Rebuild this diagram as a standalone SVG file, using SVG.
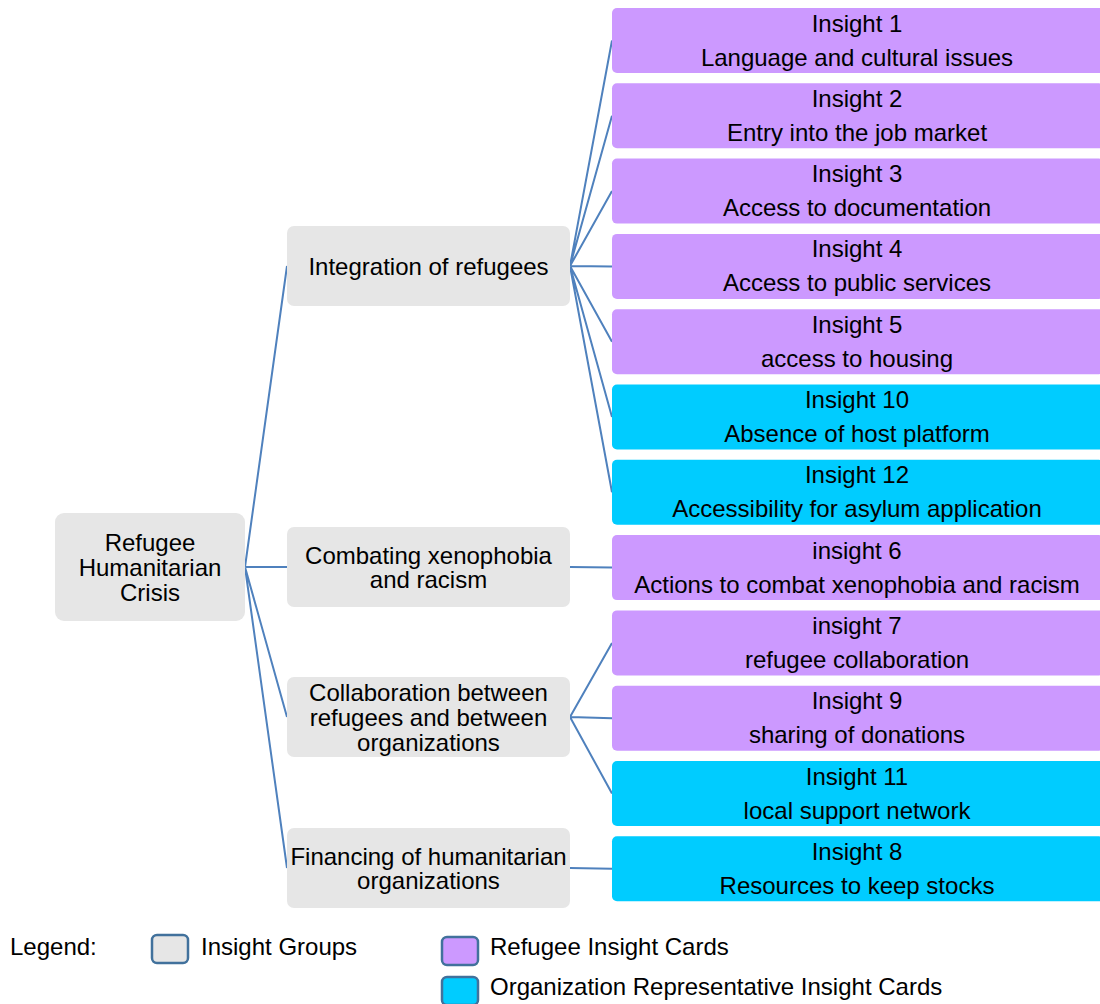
<svg xmlns="http://www.w3.org/2000/svg" width="1100" height="1004" viewBox="0 0 1100 1004">
<style>
text{font-family:"Liberation Sans",Arial,sans-serif;font-size:24px;fill:#000;text-anchor:middle}
.g{fill:#e6e6e6}
.p{fill:#cc99ff}
.c{fill:#00ccff}
.ln{stroke:#4f81bd;stroke-width:2;fill:none}
.lg{stroke:#41719c;stroke-width:2.5}
.l{text-anchor:start}
</style>
<rect width="1100" height="1004" fill="#fff"/>
<g id="connectors" class="ln">
<path d="M245 567L287 266M245 567L287 567M245 567L287 717M245 567L287 868"/>
<path d="M570 266L612 40.5M570 266L612 115.8M570 266L612 191.1M570 266L612 266.4M570 266L612 341.7M570 266L612 417M570 266L612 492.3"/>
<path d="M570 567L612 567.6"/>
<path d="M570 717L612 642.9M570 717L612 718.2M570 717L612 793.5"/>
<path d="M570 868L612 868.8"/>
</g>
<g id="root"><rect class="g" x="55" y="513" width="190" height="108" rx="9"/><text x="150" y="550.5">Refugee</text><text x="150" y="575.5">Humanitarian</text><text x="150" y="600.5">Crisis</text></g>
<g id="grp-integration"><rect class="g" x="287" y="226" width="283" height="80" rx="7"/><text x="428.5" y="274.5">Integration of refugees</text></g>
<g id="grp-combating"><rect class="g" x="287" y="527" width="283" height="80" rx="7"/><text x="428.5" y="563.5">Combating xenophobia</text><text x="428.5" y="587.5">and racism</text></g>
<g id="grp-collab"><rect class="g" x="287" y="677" width="283" height="80" rx="7"/><text x="428.5" y="700.5">Collaboration between</text><text x="428.5" y="725.5">refugees and between</text><text x="428.5" y="750.5">organizations</text></g>
<g id="grp-financing"><rect class="g" x="287" y="828" width="283" height="80" rx="7"/><text x="428.5" y="864.5">Financing of humanitarian</text><text x="428.5" y="888.5">organizations</text></g>
<g id="card1"><rect class="p" x="612" y="8" width="492" height="65" rx="5"/><text x="857" y="31.5">Insight 1</text><text x="857" y="65.5">Language and cultural issues</text></g>
<g id="card2"><rect class="p" x="612" y="83.3" width="492" height="65" rx="5"/><text x="857" y="106.8">Insight 2</text><text x="857" y="140.8">Entry into the job market</text></g>
<g id="card3"><rect class="p" x="612" y="158.6" width="492" height="65" rx="5"/><text x="857" y="182.1">Insight 3</text><text x="857" y="216.1">Access to documentation</text></g>
<g id="card4"><rect class="p" x="612" y="233.9" width="492" height="65" rx="5"/><text x="857" y="257.4">Insight 4</text><text x="857" y="291.4">Access to public services</text></g>
<g id="card5"><rect class="p" x="612" y="309.2" width="492" height="65" rx="5"/><text x="857" y="332.7">Insight 5</text><text x="857" y="366.7">access to housing</text></g>
<g id="card10"><rect class="c" x="612" y="384.5" width="492" height="65" rx="5"/><text x="857" y="408">Insight 10</text><text x="857" y="442">Absence of host platform</text></g>
<g id="card12"><rect class="c" x="612" y="459.8" width="492" height="65" rx="5"/><text x="857" y="483.3">Insight 12</text><text x="857" y="517.3">Accessibility for asylum application</text></g>
<g id="card6"><rect class="p" x="612" y="535.1" width="492" height="65" rx="5"/><text x="857" y="558.6">insight 6</text><text x="857" y="592.6">Actions to combat xenophobia and racism</text></g>
<g id="card7"><rect class="p" x="612" y="610.4" width="492" height="65" rx="5"/><text x="857" y="633.9">insight 7</text><text x="857" y="667.9">refugee collaboration</text></g>
<g id="card9"><rect class="p" x="612" y="685.7" width="492" height="65" rx="5"/><text x="857" y="709.2">Insight 9</text><text x="857" y="743.2">sharing of donations</text></g>
<g id="card11"><rect class="c" x="612" y="761" width="492" height="65" rx="5"/><text x="857" y="784.5">Insight 11</text><text x="857" y="818.5">local support network</text></g>
<g id="card8"><rect class="c" x="612" y="836.3" width="492" height="65" rx="5"/><text x="857" y="859.8">Insight 8</text><text x="857" y="893.8">Resources to keep stocks</text></g>
<g id="legend">
<text class="l" x="10" y="955">Legend:</text>
<rect class="g lg" x="152" y="935" width="36" height="28" rx="5"/>
<text class="l" x="201" y="955">Insight Groups</text>
<rect class="p lg" x="442" y="937" width="36" height="28" rx="5"/>
<text class="l" x="490" y="955">Refugee Insight Cards</text>
<rect class="c lg" x="442" y="977" width="36" height="28" rx="5"/>
<text class="l" x="490" y="995">Organization Representative Insight Cards</text>
</g>
</svg>
